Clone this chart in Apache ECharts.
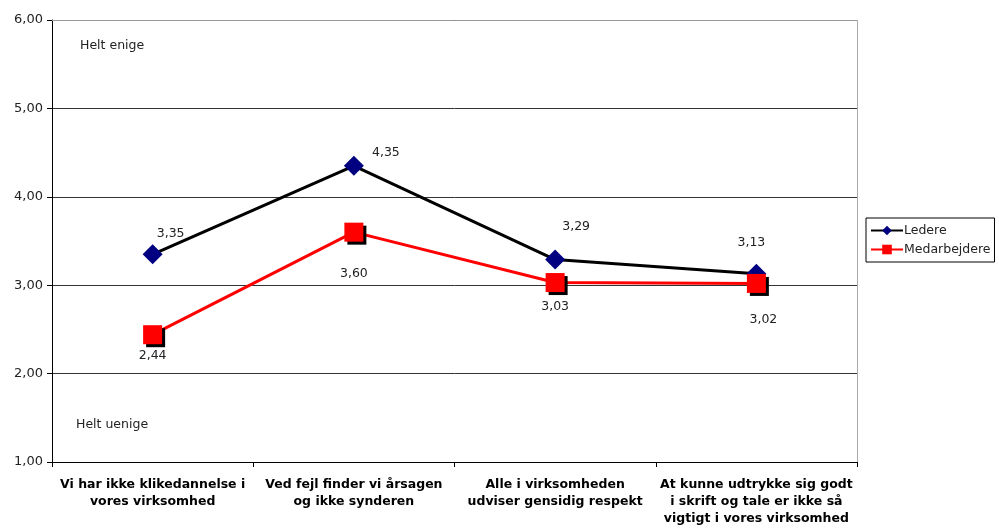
<!DOCTYPE html>
<html>
<head>
<meta charset="utf-8">
<script src="https://cdn.jsdelivr.net/npm/echarts@6/dist/echarts.min.js"></script>
<style>
  html, body { margin: 0; padding: 0; background: #fff; }
  #chart { width: 999px; height: 531px; }
</style>
</head>
<body>
<div id="chart"></div>
<script>
const categories = [
  "Vi har ikke klikedannelse i\nvores virksomhed",
  "Ved fejl finder vi årsagen\nog ikke synderen",
  "Alle i virksomheden\nudviser gensidig respekt",
  "At kunne udtrykke sig godt\ni skrift og tale er ikke så\nvigtigt i vores virksomhed"
];
const ledere = [3.35, 4.35, 3.29, 3.13];
const medarbejdere = [2.44, 3.60, 3.03, 3.02];
const yTicks = [1, 2, 3, 4, 5, 6];

// label nudges, in pixels, to sit like the original
const ledereLabelOffsets = [[18, -21], [32, -13], [21, -33], [-5, -31]];
const medLabelOffsets = [[0, 21], [0, 42], [0, 24], [7, 36]];

const fmt = (v) => v.toFixed(2).replace(".", ",");
const font = "DejaVu Sans, Verdana, sans-serif";

const chart = echarts.init(document.getElementById("chart"));

const withLabels = (values, offsets) =>
  values.map((v, i) => ({
    value: v,
    label: { offset: offsets[i] }
  }));

chart.setOption({
  animation: false,
  backgroundColor: "#fff",
  textStyle: { fontFamily: font },
  grid: { left: 52, right: 142, top: 20, bottom: 69 },
  legend: {
    orient: "vertical",
    left: 866,
    top: 218,
    padding: [6, 4, 6, 4],
    itemGap: 6,
    itemWidth: 32,
    itemHeight: 12,
    borderColor: "#000",
    borderWidth: 1,
    borderRadius: 0,
    textStyle: { fontSize: 12.5, color: "#222", fontFamily: font, padding: [0, 0, 0, -4] },
    data: ["Ledere", "Medarbejdere"]
  },
  xAxis: {
    type: "category",
    data: categories,
    boundaryGap: true,
    axisLine: { lineStyle: { color: "#000", width: 1 } },
    axisTick: { show: true, length: 5, lineStyle: { color: "#000" } },
    axisLabel: {
      interval: 0,
      margin: 14,
      fontSize: 12.5,
      fontWeight: "bold",
      color: "#000",
      lineHeight: 17,
      fontFamily: font
    },
    splitLine: { show: false }
  },
  yAxis: [
    {
      type: "value",
      min: yTicks[0],
      max: yTicks[yTicks.length - 1],
      interval: 1,
      axisLine: { show: true, lineStyle: { color: "#000" } },
      axisTick: { show: true, length: 5, lineStyle: { color: "#000" } },
      axisLabel: { fontSize: 13, color: "#222", margin: 9, formatter: fmt, fontFamily: font },
      splitLine: { show: true, lineStyle: { color: "#333", width: 1 } }
    }
  ],
  graphic: [
    { type: "line", shape: { x1: 857.5, y1: 20, x2: 857.5, y2: 462 }, style: { stroke: "#aaa", lineWidth: 1 } },
    { type: "line", shape: { x1: 52, y1: 20.5, x2: 857, y2: 20.5 }, style: { stroke: "#999", lineWidth: 1 }, z: 1 },
    { type: "text", left: 80, top: 39, style: { text: "Helt enige", fontSize: 12.5, fill: "#222", fontFamily: font } },
    { type: "text", left: 76, top: 418, style: { text: "Helt uenige", fontSize: 12.5, fill: "#222", fontFamily: font } }
  ],
  series: [
    {
      name: "Medarbejdere",
      type: "line",
      data: withLabels(medarbejdere, medLabelOffsets),
      symbol: "rect",
      symbolSize: 19,
      z: 2,
      lineStyle: { color: "#ff0000", width: 3 },
      itemStyle: {
        color: "#ff0000",
        shadowColor: "#000",
        shadowOffsetX: 3,
        shadowOffsetY: 3,
        shadowBlur: 0
      },
      label: {
        show: true,
        position: "inside",
        formatter: (p) => fmt(p.value),
        fontSize: 12.5,
        color: "#222",
        fontFamily: font
      }
    },
    {
      name: "Ledere",
      type: "line",
      data: withLabels(ledere, ledereLabelOffsets),
      symbol: "diamond",
      symbolSize: 20,
      z: 1,
      lineStyle: { color: "#000", width: 3 },
      itemStyle: { color: "#000080" },
      label: {
        show: true,
        position: "inside",
        formatter: (p) => fmt(p.value),
        fontSize: 12.5,
        color: "#222",
        fontFamily: font
      }
    }
  ]
});
</script>
</body>
</html>
